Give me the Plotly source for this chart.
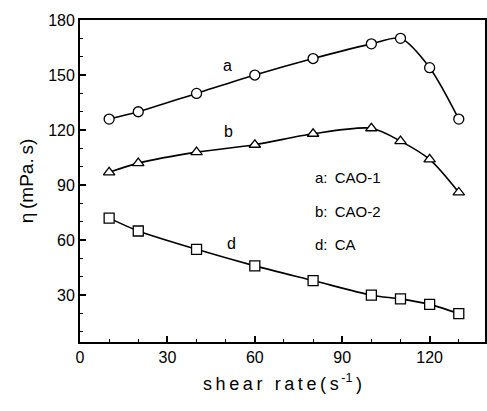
import plotly.graph_objects as go

shear_rate = [10, 20, 40, 60, 80, 100, 110, 120, 130]
eta_a = [126, 130, 140, 150, 159, 167, 170, 154, 126]
eta_b = [97, 102, 108, 112, 118, 121, 114, 104, 86]
eta_d = [72, 65, 55, 46, 38, 30, 28, 25, 20]

curve_labels = ["a", "b", "d"]
legend_lines = ["a: CAO-1", "b: CAO-2", "d: CA"]

FONT = "Liberation Sans, Arial, sans-serif"

fig = go.Figure()
series = [(eta_a, "circle"), (eta_b, "triangle-up"), (eta_d, "square")]
for ys, sym in series:
    fig.add_trace(go.Scatter(
        x=shear_rate, y=ys, mode="lines",
        line=dict(color="black", width=1.6, shape="spline", smoothing=0.8),
        showlegend=False, hoverinfo="skip"))
for ys, sym in series:
    fig.add_trace(go.Scatter(
        x=shear_rate, y=ys, mode="markers",
        marker=dict(symbol=sym, size=10, color="white",
                    line=dict(color="black", width=1.3)),
        showlegend=False))

label_pos = [(50.5, 155), (51, 119), (52, 58)]
for t, (x, y) in zip(curve_labels, label_pos):
    fig.add_annotation(x=x, y=y, text=t, showarrow=False,
                       font=dict(family=FONT, size=16, color="black"))
leg_pos = [(80, 94), (80, 75.5), (80, 57.5)]
for t, (x, y) in zip(legend_lines, leg_pos):
    fig.add_annotation(x=x, y=y, text=t.replace(":", ":\u2009"), showarrow=False, xanchor="left",
                       font=dict(family=FONT, size=15, color="black"))

xtitle = "\u2009".join("shear rate(s") + "<sup>\u2009-1</sup>\u2009)"

fig.update_layout(
    width=487, height=411,
    margin=dict(l=80, r=0, t=20, b=69),
    paper_bgcolor="white", plot_bgcolor="white",
    font=dict(family=FONT, color="black"),
    xaxis=dict(range=[0, 139], tickvals=[0, 30, 60, 90, 120],
               ticks="inside", ticklen=6, tickwidth=1.5, tickcolor="black",
               minor=dict(dtick=10, ticks="inside", ticklen=3, tickwidth=1.2, tickcolor="black"),
               showline=True, linecolor="black", linewidth=1.8, mirror=True,
               showgrid=False, zeroline=False,
               tickfont=dict(size=16, family=FONT),
               title=dict(text=xtitle, font=dict(size=18, family=FONT), standoff=12)),
    yaxis=dict(range=[4.5, 180], tickvals=[30, 60, 90, 120, 150, 180],
               ticks="inside", ticklen=6, tickwidth=1.5, tickcolor="black",
               minor=dict(dtick=10, tick0=0, ticks="inside", ticklen=3, tickwidth=1.2, tickcolor="black"),
               showline=True, linecolor="black", linewidth=1.8, mirror=True,
               showgrid=False, zeroline=False,
               tickfont=dict(size=16, family=FONT),
               title=dict(text="\u03b7\u2009(mPa.\u2009s)", font=dict(size=19, family=FONT), standoff=10)),
)

fig.write_html("out.html")
